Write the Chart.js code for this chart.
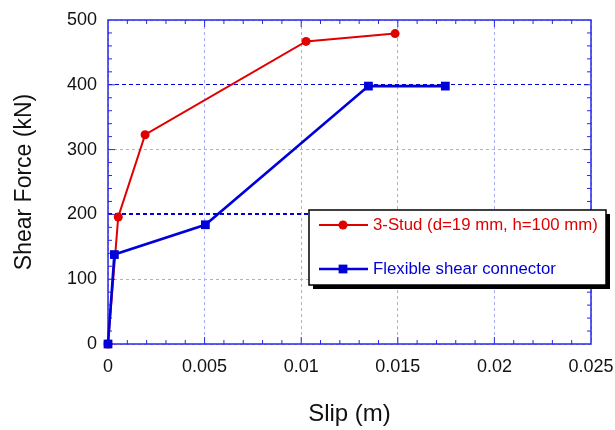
<!DOCTYPE html>
<html>
<head>
<meta charset="utf-8">
<script src="https://cdn.jsdelivr.net/npm/chart.js@4/dist/chart.umd.min.js"></script>
<style>
  body { margin: 0; background: #fff; }
</style>
</head>
<body>
<canvas id="myChart" width="615" height="430"></canvas>
<script>
// values
const studSlip = [0, 0.00053, 0.00192, 0.01025, 0.01486];
const studForce = [0, 196, 323, 467, 479];
const flexSlip = [0, 0.00033, 0.00504, 0.01348, 0.01746];
const flexForce = [0, 138, 184, 398, 398];
const seriesNames = ["3-Stud (d=19 mm, h=100 mm)", "Flexible shear connector"];
const xTicks = [0, 0.005, 0.01, 0.015, 0.02, 0.025];
const yTicks = [0, 100, 200, 300, 400, 500];

const RED = "#e00000";
const BLUE = "#0000d8";
const FRAME = "#2828e8";
const FONT = "Liberation Sans, Arial, sans-serif";

function toPoints(xs, ys) {
  return xs.map((x, i) => ({ x: x, y: ys[i] }));
}

// frame on all four sides with inward tick marks
const framePlugin = {
  id: "frame",
  beforeDatasetsDraw(chart) {
    const { ctx, chartArea: a, scales } = chart;
    const xs = scales.x, ys = scales.y;
    ctx.save();
    ctx.strokeStyle = FRAME;
    ctx.lineWidth = 1.5;
    ctx.strokeRect(a.left, a.top, a.right - a.left, a.bottom - a.top);
    ctx.lineWidth = 1;
    ctx.beginPath();
    // x minor ticks every 0.001
    for (let i = 1; i < 25; i++) {
      let px = xs.getPixelForValue(i * 0.001);
      let len = i % 5 === 0 ? 7 : 4;
      ctx.moveTo(px, a.bottom); ctx.lineTo(px, a.bottom - len);
      ctx.moveTo(px, a.top); ctx.lineTo(px, a.top + len);
    }
    // y minor ticks every 20
    for (let v = 20; v < 500; v += 20) {
      let py = ys.getPixelForValue(v);
      let len = v % 100 === 0 ? 7 : 4;
      ctx.moveTo(a.left, py); ctx.lineTo(a.left + len, py);
      ctx.moveTo(a.right, py); ctx.lineTo(a.right - len, py);
    }
    ctx.stroke();
    ctx.restore();
  },
  afterDraw(chart) {
    // boxed legend with drop shadow
    const ctx = chart.ctx;
    const box = { x: 309, y: 210, w: 297, h: 75 };
    ctx.save();
    ctx.fillStyle = "#000";
    ctx.fillRect(box.x + 4, box.y + 4, box.w, box.h);
    ctx.fillStyle = "#fff";
    ctx.fillRect(box.x, box.y, box.w, box.h);
    ctx.strokeStyle = "#000";
    ctx.lineWidth = 1.5;
    ctx.strokeRect(box.x, box.y, box.w, box.h);

    const rows = [
      { y: 225, color: RED, style: "circle", r: 4.5, lw: 2, label: seriesNames[0] },
      { y: 269, color: BLUE, style: "rect", r: 6.2, lw: 2.5, label: seriesNames[1] }
    ];
    rows.forEach((row) => {
      ctx.strokeStyle = row.color;
      ctx.lineWidth = row.lw;
      ctx.beginPath();
      ctx.moveTo(319, row.y);
      ctx.lineTo(368, row.y);
      ctx.stroke();
      ctx.fillStyle = row.color;
      Chart.helpers.drawPoint(ctx, { pointStyle: row.style, radius: row.r, borderWidth: 0 }, 343, row.y);
      ctx.fillStyle = row.color;
      ctx.font = "16.8px " + FONT;
      ctx.textBaseline = "middle";
      ctx.textAlign = "left";
      ctx.fillText(row.label, 373, row.y);
    });
    ctx.restore();
  }
};

function gridColor(c) {
  if (c.tick && (c.tick.value === 200 || c.tick.value === 400)) return BLUE;
  return "#ababef";
}

new Chart(document.getElementById("myChart"), {
  type: "line",
  data: {
    datasets: [
      {
        label: seriesNames[1],
        data: toPoints(flexSlip, flexForce),
        borderColor: BLUE,
        backgroundColor: BLUE,
        borderWidth: 2.6,
        pointStyle: "rect",
        pointRadius: 6.2,
        pointBorderWidth: 0,
        clip: false,
        order: 0
      },
      {
        label: seriesNames[0],
        data: toPoints(studSlip, studForce),
        borderColor: RED,
        backgroundColor: RED,
        borderWidth: 2,
        pointStyle: "circle",
        pointRadius: 4.5,
        pointBorderWidth: 0,
        clip: false,
        order: 1
      }
    ]
  },
  options: {
    responsive: false,
    animation: false,
    layout: { padding: { top: 20, right: 24, left: 0, bottom: 0 } },
    plugins: { legend: { display: false }, tooltip: { enabled: false } },
    elements: { line: { tension: 0 } },
    scales: {
      x: {
        type: "linear",
        min: 0,
        max: 0.025,
        afterFit: (s) => { s.height = 86; s.paddingLeft = 0; s.paddingRight = 0; },
        afterBuildTicks: (s) => { s.ticks = xTicks.map((v) => ({ value: v })); },
        ticks: {
          color: "#111",
          font: { family: FONT, size: 18 },
          padding: 12,
          maxRotation: 0,
          callback: (v) => String(parseFloat(Number(v).toFixed(4)))
        },
        grid: { color: "#ababef", lineWidth: 1, drawTicks: false },
        border: { display: false, dash: [3, 3] },
        title: {
          display: true,
          text: "Slip (m)",
          color: "#111",
          font: { family: FONT, size: 24 },
          padding: { top: 0, bottom: 1 }
        }
      },
      y: {
        type: "linear",
        min: 0,
        max: 500,
        afterFit: (s) => { s.width = 108; s.paddingTop = 0; s.paddingBottom = 0; },
        afterBuildTicks: (s) => { s.ticks = yTicks.map((v) => ({ value: v })); },
        ticks: {
          color: "#111",
          font: { family: FONT, size: 18 },
          padding: 11
        },
        grid: {
          color: gridColor,
          lineWidth: (c) => (c.tick && c.tick.value === 200 ? 2 : 1),
          drawTicks: false
        },
        border: {
          display: false,
          dash: (c) => (c.tick && (c.tick.value === 200 || c.tick.value === 400) ? [4, 3] : [3, 3])
        },
        title: {
          display: true,
          text: "Shear Force (kN)",
          color: "#111",
          font: { family: FONT, size: 23 },
          padding: { top: 11, bottom: 0 }
        }
      }
    }
  },
  plugins: [framePlugin]
});
</script>
</body>
</html>
